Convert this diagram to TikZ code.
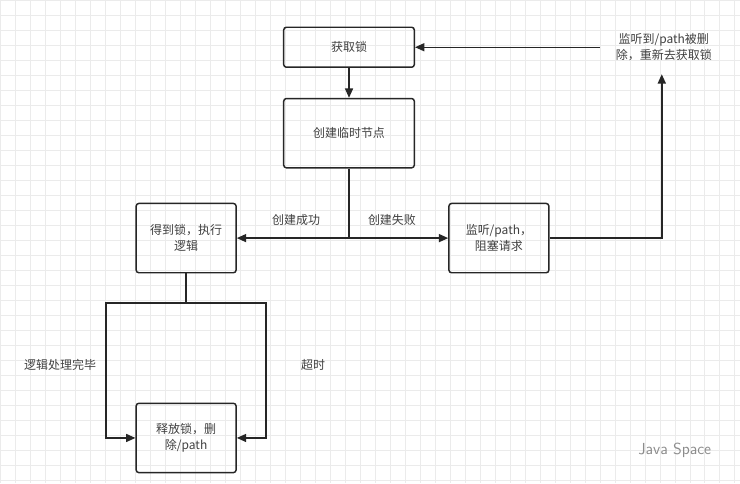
\documentclass[tikz,border=0pt]{standalone}
\usepackage{fontspec}
\setmainfont{Noto Sans CJK SC}
\usetikzlibrary{arrows.meta}
\begin{document}
\begin{tikzpicture}[x=0.75pt,y=-0.75pt,font=\fontsize{9}{12}\selectfont,
  box/.style={draw=black!85,line width=1.1pt,rounded corners=2pt,align=center,text=black!75},
  lbl/.style={text=black!75,align=center},
  link/.style={draw=black!85,line width=1.1pt,-{Triangle[length=7pt,width=6pt]}},
  plain/.style={draw=black!85,line width=1.1pt}]
\fill[white] (0,0) rectangle (740,483);
\foreach \gx in {0,15,...,735} \draw[black!8] (\gx,0) -- (\gx,483);
\foreach \gy in {0,15,...,480} \draw[black!8] (0,\gy) -- (740,\gy);
\useasboundingbox (0,0) rectangle (740,483);
% nodes
\node[box,minimum width=98pt,minimum height=30pt] (lock) at (349,47) {获取锁};
\node[box,minimum width=98pt,minimum height=52pt] (create) at (349,133) {创建临时节点};
\node[box,minimum width=75pt,minimum height=52pt] (got) at (186,238) {得到锁，执行\\逻辑};
\node[box,minimum width=75pt,minimum height=52pt] (watch) at (499,238) {监听/path，\\阻塞请求};
\node[box,minimum width=75pt,minimum height=52pt] (release) at (186,438) {释放锁，删\\除/path};
\node[lbl] (note) at (664,47) {监听到/path被删\\除，重新去获取锁};
\node[lbl] (ok) at (296,220) {创建成功};
\node[lbl] (fail) at (392,220) {创建失败};
\node[lbl] (done) at (60,365) {逻辑处理完毕};
\node[lbl] (timeout) at (313,365) {超时};
\node[text=black!45,font=\fontsize{12}{14}\selectfont\sffamily] (mark) at (675,450) {Java Space};
\coordinate (split) at (349,238);
\coordinate (fork) at (186,303);
\coordinate (back) at (600,47);
\coordinate (up) at (662,74);
% connectors
\draw[link] (lock) -- (create);
\draw[plain] (create) -- (split);
\draw[link] (split) -- (got);
\draw[link] (split) -- (watch);
\draw[link] (watch.east) -| (up);
\draw[link] (back) -- (lock.east);
\draw[plain] (got) -- (fork);
\draw[link] (fork) -- (106,303) |- (release.west);
\draw[link] (fork) -- (266,303) |- (release.east);
\end{tikzpicture}
\end{document}
